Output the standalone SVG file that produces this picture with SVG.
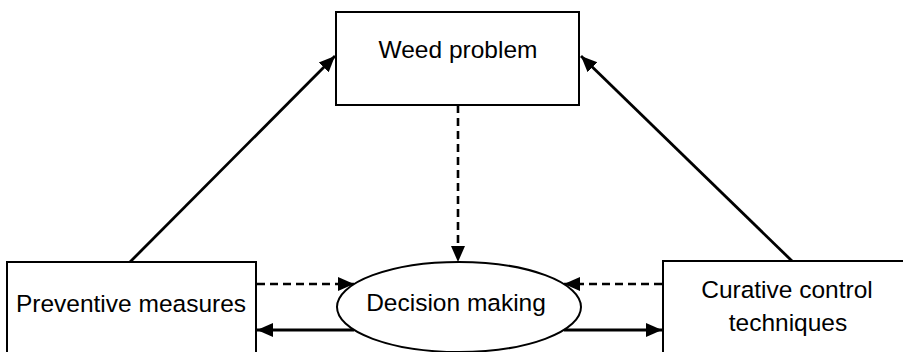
<svg xmlns="http://www.w3.org/2000/svg" width="903" height="352" viewBox="0 0 903 352">
<style>
.box{fill:#fff;stroke:#000;stroke-width:2}
.t{font-family:"Liberation Sans",Arial,sans-serif;font-size:24.5px;fill:#000;text-anchor:middle}
.solid{stroke:#000;stroke-width:2.8;fill:none}
.dash{stroke:#000;stroke-width:2.6;fill:none;stroke-dasharray:8 5}
</style>
<defs>
<marker id="ah" markerUnits="userSpaceOnUse" markerWidth="18" markerHeight="16" refX="16" refY="8" orient="auto">
<path d="M0,1 L16,8 L0,15 Z" fill="#000"/>
</marker>
</defs>
<rect width="903" height="352" fill="#fff"/>
<g id="connectors">
<line class="solid" x1="130" y1="262" x2="335" y2="56" marker-end="url(#ah)"/>
<line class="solid" x1="792" y1="261" x2="581" y2="56" marker-end="url(#ah)"/>
<line class="dash" x1="458" y1="105" x2="458" y2="262" marker-end="url(#ah)"/>
<line class="dash" x1="257" y1="284" x2="354" y2="284" marker-end="url(#ah)"/>
<line class="dash" x1="662" y1="284" x2="564" y2="284" marker-end="url(#ah)"/>
<line class="solid" x1="354" y1="330" x2="257" y2="330" marker-end="url(#ah)"/>
<line class="solid" x1="564" y1="330" x2="662" y2="330" marker-end="url(#ah)"/>
</g>
<g id="weed">
<rect class="box" x="336" y="12" width="243" height="93"/>
<text class="t" x="458" y="58">Weed problem</text>
</g>
<g id="preventive">
<rect class="box" x="7" y="262" width="249" height="100"/>
<text class="t" x="131" y="312">Preventive measures</text>
</g>
<g id="curative">
<rect class="box" x="663" y="261" width="250" height="100"/>
<text class="t" x="787" y="298">Curative control</text>
<text class="t" x="788" y="331">techniques</text>
</g>
<g id="decision">
<ellipse class="box" cx="459" cy="307" rx="122" ry="45"/>
<text class="t" x="456" y="311">Decision making</text>
</g>
</svg>
